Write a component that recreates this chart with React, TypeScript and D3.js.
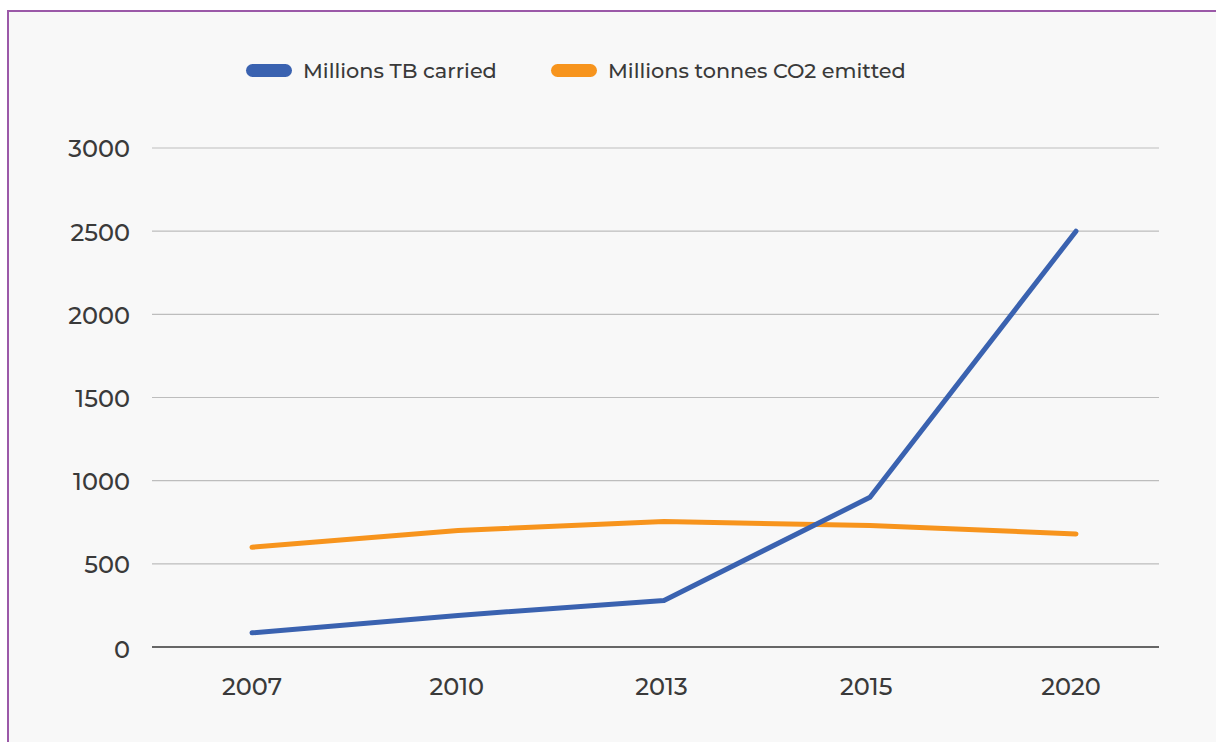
import React from "react";
import * as d3 from "d3";

const years = ["2007", "2010", "2013", "2015", "2020"];
const tbCarried = [85, 190, 280, 900, 2500];
const co2Emitted = [600, 700, 755, 730, 680];
const yTicks = [0, 500, 1000, 1500, 2000, 2500, 3000];
const seriesNames = ["Millions TB carried", "Millions tonnes CO2 emitted"];
const seriesColors = ["#3a62b0", "#f7941d"];

export default function App() {
  const W = 1216, H = 742;
  const left = 152, right = 1159, top = 148, bottom = 647;
  const x = d3.scalePoint<string>().domain(years).range([252, 1076]);
  const xLabel = d3.scalePoint<string>().domain(years).range([252, 1071]);
  const y = d3.scaleLinear().domain([0, 3000]).range([bottom, top]);
  const line = d3.line<number>().x((_, i) => x(years[i])!).y((d) => y(d));
  const font = "Montserrat, 'Open Sans', 'Noto Sans', sans-serif";
  const legendX = [246, 551];
  return (
    <svg width={W} height={H} style={{ position: "absolute", left: 0, top: 0 }}>
      <rect x={0} y={0} width={W} height={H} fill="#ffffff" />
      <rect x={8} y={11} width={1220} height={740} fill="#f8f8f8" stroke="#9b59a8" strokeWidth={2} />
      {yTicks.map((t) => (
        <g key={t}>
          {t !== 0 && <line x1={left} x2={right} y1={y(t)} y2={y(t)} stroke="#bdbdbd" strokeWidth={1.2} />}
          <text x={130} y={y(t) + (t === 0 ? 3 : 1)} dy="0.35em" textAnchor="end" fontFamily={font} fontSize={24} fontWeight={500} fill="#3a3a3a">{t}</text>
        </g>
      ))}
      <line x1={left} x2={right} y1={bottom} y2={bottom} stroke="#666" strokeWidth={2} />
      {years.map((yr) => (
        <text key={yr} x={xLabel(yr)} y={695} textAnchor="middle" fontFamily={font} fontSize={24} fontWeight={500} fill="#3a3a3a">{yr}</text>
      ))}
      <path d={line(co2Emitted)!} fill="none" stroke={seriesColors[1]} strokeWidth={5} strokeLinecap="round" strokeLinejoin="round" />
      <path d={line(tbCarried)!} fill="none" stroke={seriesColors[0]} strokeWidth={5} strokeLinecap="round" strokeLinejoin="round" />
      {seriesNames.map((n, i) => (
        <g key={n}>
          <rect x={legendX[i]} y={64} width={46} height={13} rx={6.5} fill={seriesColors[i]} />
          <text x={legendX[i] + 57} y={71} dy="0.35em" fontFamily={font} fontSize={20.8} fontWeight={500} fill="#3a3a3a">{n}</text>
        </g>
      ))}
    </svg>
  );
}
